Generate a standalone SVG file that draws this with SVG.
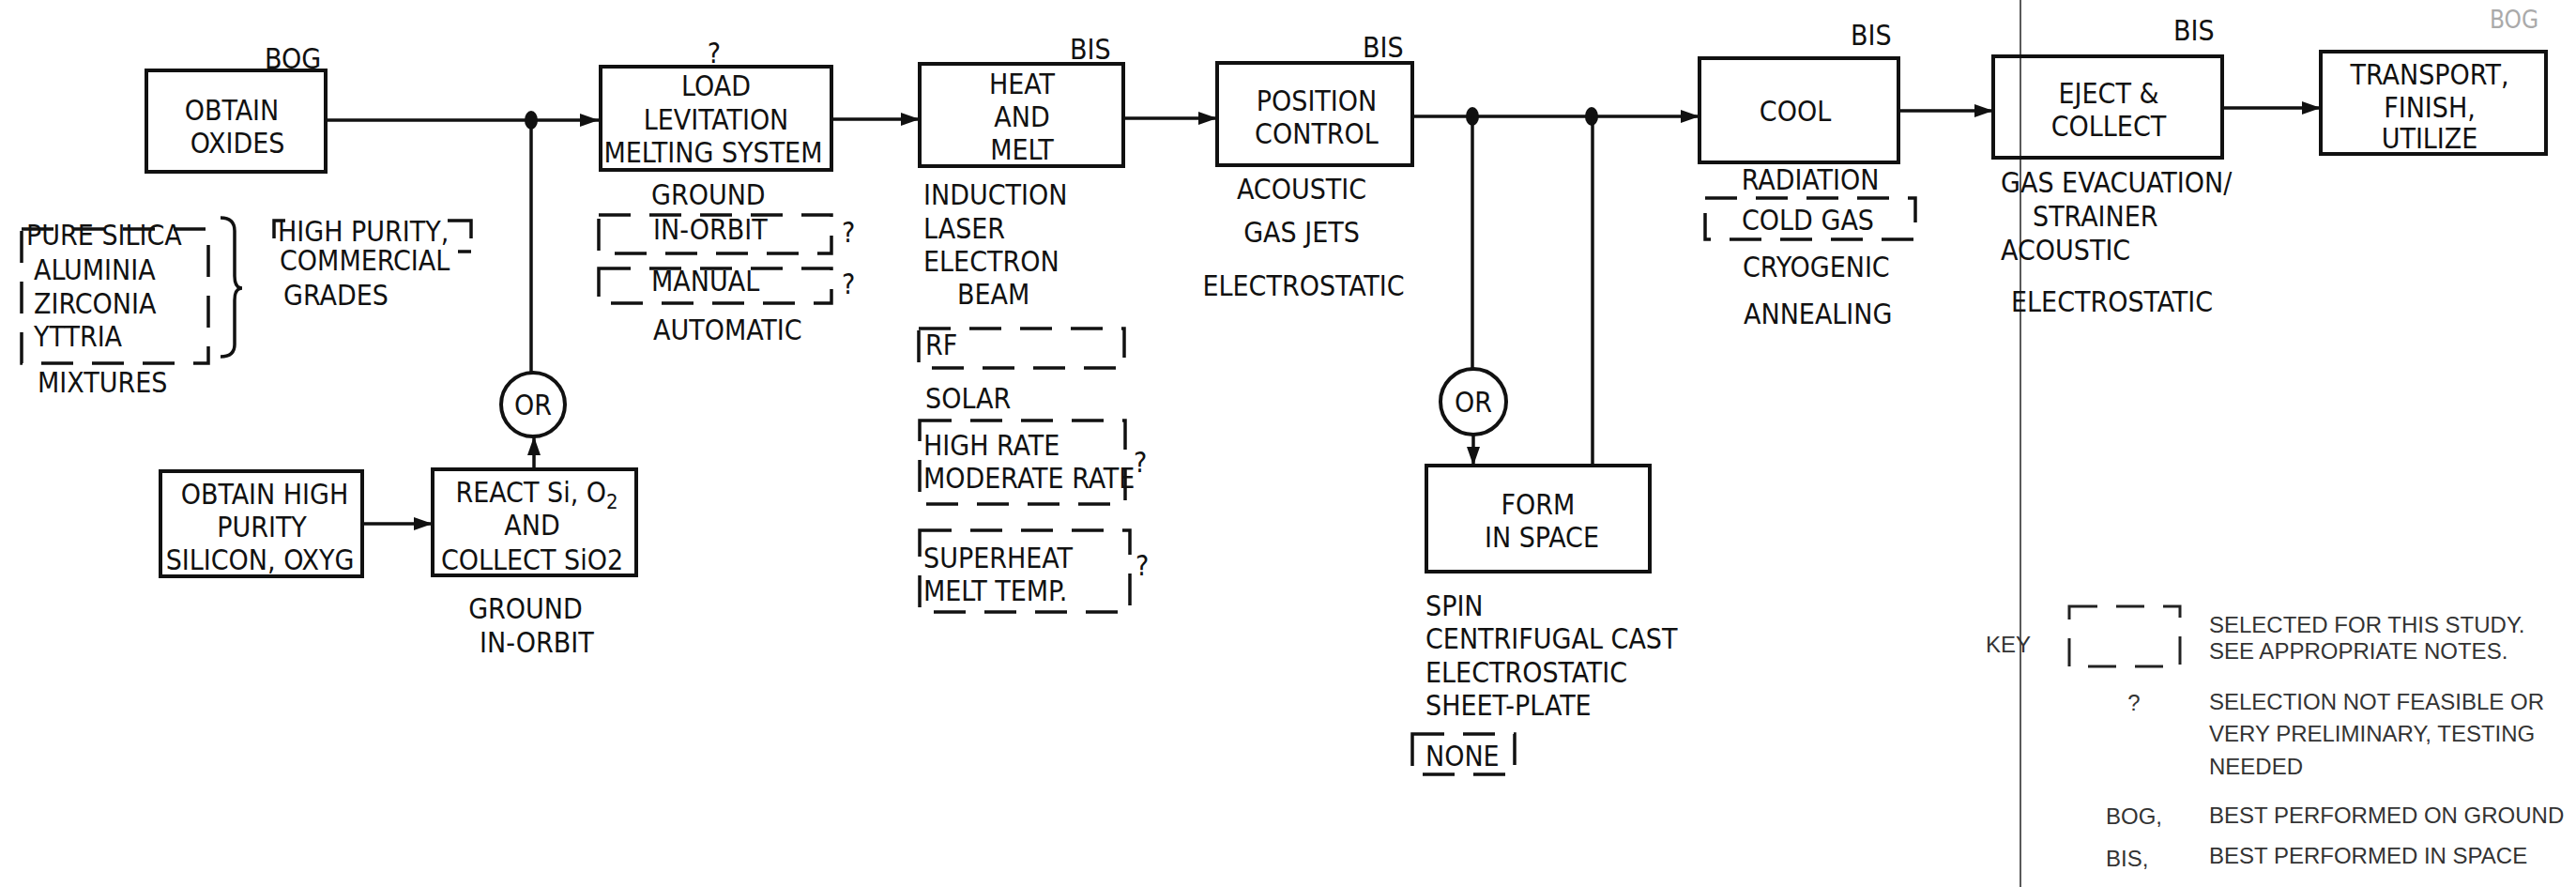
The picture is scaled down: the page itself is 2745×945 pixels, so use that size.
<svg xmlns="http://www.w3.org/2000/svg" width="2745" height="945" viewBox="0 0 2745 945">
<style>
.t{font-family:'Liberation Sans Narrow','DejaVu Sans Condensed','Liberation Sans',sans-serif;font-size:30px;fill:#111}
.c{text-anchor:middle}
.box{fill:none;stroke:#111;stroke-width:4}
.ln{fill:none;stroke:#111;stroke-width:3.5}
.dash{fill:none;stroke:#111;stroke-width:3.5;stroke-dasharray:34 20}
.k{font-family:'Liberation Sans',sans-serif;font-size:24px;fill:#333}
.dot{fill:#111}
</style>
<defs>
<marker id="ah" viewBox="0 0 20 14" refX="20" refY="7" markerWidth="20" markerHeight="14" orient="auto" markerUnits="userSpaceOnUse"><path d="M0,0 L20,7 L0,14 z" fill="#111"/></marker>
</defs>
<rect width="2745" height="945" fill="#fff"/>
<line x1="2153" y1="0" x2="2153" y2="945" stroke="#222" stroke-width="1.5"/>

<g id="connectors">
<path class="ln" d="M347,128 H638" marker-end="url(#ah)"/>
<ellipse class="dot" cx="566" cy="128" rx="7" ry="10"/>
<path class="ln" d="M566,128 V397"/>
<path class="ln" d="M569,500 V465" marker-end="url(#ah)"/>
<path class="ln" d="M386,558 H461" marker-end="url(#ah)"/>
<path class="ln" d="M886,127 H980" marker-end="url(#ah)"/>
<path class="ln" d="M1197,126 H1297" marker-end="url(#ah)"/>
<path class="ln" d="M1505,124 H1811" marker-end="url(#ah)"/>
<ellipse class="dot" cx="1569" cy="124" rx="7" ry="10"/>
<ellipse class="dot" cx="1696" cy="124" rx="7" ry="10"/>
<path class="ln" d="M1569,124 V393"/>
<path class="ln" d="M1570,463 V496" marker-end="url(#ah)"/>
<path class="ln" d="M1697,496 V124"/>
<path class="ln" d="M2023,118 H2124" marker-end="url(#ah)"/>
<path class="ln" d="M2368,115 H2473" marker-end="url(#ah)"/>
</g>

<g id="obtain-oxides">
<text class="t" x="282" y="73">BOG</text>
<rect class="box" x="156" y="75" width="191" height="108"/>
<text class="t c" x="247" y="128">OBTAIN</text>
<text class="t c" x="253" y="163">OXIDES</text>
</g>

<g id="oxide-options">
<rect class="dash" x="23" y="244" width="199" height="143"/>
<text class="t" x="28" y="261">PURE SILICA</text>
<text class="t" x="36" y="298">ALUMINIA</text>
<text class="t" x="36" y="334">ZIRCONIA</text>
<text class="t" x="36" y="369">YTTRIA</text>
<text class="t" x="40" y="418">MIXTURES</text>
<path class="ln" d="M235,232 Q250,232 250,246 V294 Q250,307 258,307 Q250,307 250,320 V367 Q250,380 235,380"/>
<path class="ln" d="M292,254 V235 H304 M477,235 H502 V254 M488,268 H502"/>
<text class="t" x="296" y="257">HIGH PURITY,</text>
<text class="t" x="298" y="288">COMMERCIAL</text>
<text class="t" x="302" y="325">GRADES</text>
</g>

<g id="or1">
<circle class="box" cx="568" cy="431" r="34" stroke-width="3.5"/>
<text class="t c" x="568" y="442">OR</text>
</g>

<g id="obtain-high-purity">
<rect class="box" x="171" y="502" width="215" height="112"/>
<text class="t c" x="282" y="537">OBTAIN HIGH</text>
<text class="t c" x="279" y="572">PURITY</text>
<text class="t c" x="277" y="607">SILICON, OXYG</text>
</g>

<g id="react">
<rect class="box" x="461" y="500" width="217" height="113"/>
<text class="t c" x="572" y="535">REACT Si, O<tspan font-size="22" dy="7">2</tspan></text>
<text class="t c" x="567" y="570">AND</text>
<text class="t c" x="567" y="607">COLLECT SiO2</text>
<text class="t c" x="560" y="659">GROUND</text>
<text class="t" x="511" y="695">IN-ORBIT</text>
</g>

<g id="load">
<text class="t c" x="761" y="67">?</text>
<rect class="box" x="640" y="71" width="246" height="110"/>
<text class="t c" x="763" y="102">LOAD</text>
<text class="t c" x="763" y="138">LEVITATION</text>
<text class="t c" x="760" y="173">MELTING SYSTEM</text>
<text class="t" x="694" y="218">GROUND</text>
<rect class="dash" x="638" y="229" width="248" height="41"/>
<text class="t" x="696" y="255">IN-ORBIT</text>
<text class="t" x="897" y="258">?</text>
<rect class="dash" x="638" y="286" width="248" height="37"/>
<text class="t" x="694" y="310">MANUAL</text>
<text class="t" x="897" y="313">?</text>
<text class="t" x="696" y="362">AUTOMATIC</text>
</g>

<g id="heat-melt">
<text class="t" x="1140" y="63">BIS</text>
<rect class="box" x="980" y="68" width="217" height="109"/>
<text class="t c" x="1089" y="100">HEAT</text>
<text class="t c" x="1089" y="135">AND</text>
<text class="t c" x="1089" y="170">MELT</text>
<text class="t" x="984" y="218">INDUCTION</text>
<text class="t" x="984" y="254">LASER</text>
<text class="t" x="984" y="289">ELECTRON</text>
<text class="t" x="1020" y="324">BEAM</text>
<rect class="dash" x="979" y="350" width="219" height="42"/>
<text class="t" x="986" y="378">RF</text>
<text class="t" x="986" y="435">SOLAR</text>
<rect class="dash" x="980" y="448" width="219" height="89"/>
<text class="t" x="984" y="485">HIGH RATE</text>
<text class="t" x="984" y="520">MODERATE RATE</text>
<text class="t" x="1208" y="503">?</text>
<rect class="dash" x="980" y="565" width="224" height="87"/>
<text class="t" x="984" y="605">SUPERHEAT</text>
<text class="t" x="984" y="640">MELT TEMP.</text>
<text class="t" x="1210" y="613">?</text>
</g>

<g id="position-control">
<text class="t" x="1452" y="61">BIS</text>
<rect class="box" x="1297" y="67" width="208" height="109"/>
<text class="t c" x="1403" y="118">POSITION</text>
<text class="t c" x="1403" y="153">CONTROL</text>
<text class="t c" x="1387" y="212">ACOUSTIC</text>
<text class="t c" x="1387" y="258">GAS JETS</text>
<text class="t c" x="1389" y="315">ELECTROSTATIC</text>
</g>

<g id="or2">
<circle class="box" cx="1570" cy="428" r="35" stroke-width="3.5"/>
<text class="t c" x="1570" y="439">OR</text>
</g>

<g id="form-in-space">
<rect class="box" x="1520" y="496" width="238" height="113"/>
<text class="t c" x="1639" y="548">FORM</text>
<text class="t c" x="1643" y="583">IN SPACE</text>
<text class="t" x="1519" y="656">SPIN</text>
<text class="t" x="1519" y="691">CENTRIFUGAL CAST</text>
<text class="t" x="1519" y="727">ELECTROSTATIC</text>
<text class="t" x="1519" y="762">SHEET-PLATE</text>
<rect class="dash" x="1505" y="782" width="109" height="43"/>
<text class="t" x="1519" y="816">NONE</text>
</g>

<g id="cool">
<text class="t" x="1972" y="48">BIS</text>
<rect class="box" x="1811" y="62" width="212" height="111"/>
<text class="t c" x="1913" y="129">COOL</text>
<text class="t c" x="1929" y="202">RADIATION</text>
<rect class="dash" x="1817" y="211" width="224" height="44"/>
<text class="t" x="1856" y="245">COLD GAS</text>
<text class="t" x="1857" y="295">CRYOGENIC</text>
<text class="t" x="1858" y="345">ANNEALING</text>
</g>

<g id="eject-collect">
<text class="t" x="2316" y="43">BIS</text>
<rect class="box" x="2124" y="60" width="244" height="108"/>
<text class="t c" x="2247" y="110">EJECT &amp;</text>
<text class="t c" x="2247" y="145">COLLECT</text>
<text class="t" x="2132" y="205">GAS EVACUATION/</text>
<text class="t" x="2166" y="241">STRAINER</text>
<text class="t" x="2132" y="277">ACOUSTIC</text>
<text class="t" x="2143" y="332">ELECTROSTATIC</text>
</g>

<g id="transport">
<text class="t" x="2653" y="30" style="fill:#aaa;font-size:26px">BOG</text>
<rect class="box" x="2473" y="55" width="240" height="109"/>
<text class="t c" x="2589" y="90">TRANSPORT,</text>
<text class="t c" x="2589" y="125">FINISH,</text>
<text class="t c" x="2589" y="158">UTILIZE</text>
</g>

<g id="key">
<text class="k" x="2116" y="695">KEY</text>
<rect x="2205" y="646" width="118" height="64" fill="none" stroke="#222" stroke-width="3" stroke-dasharray="30 20"/>
<text class="k" x="2354" y="674">SELECTED FOR THIS STUDY.</text>
<text class="k" x="2354" y="702">SEE APPROPRIATE NOTES.</text>
<text class="k c" x="2274" y="757">?</text>
<text class="k" x="2354" y="756">SELECTION NOT FEASIBLE OR</text>
<text class="k" x="2354" y="790">VERY PRELIMINARY, TESTING</text>
<text class="k" x="2354" y="825">NEEDED</text>
<text class="k" x="2244" y="878">BOG,</text>
<text class="k" x="2354" y="877">BEST PERFORMED ON GROUND</text>
<text class="k" x="2244" y="923">BIS,</text>
<text class="k" x="2354" y="920">BEST PERFORMED IN SPACE</text>
</g>
</svg>
